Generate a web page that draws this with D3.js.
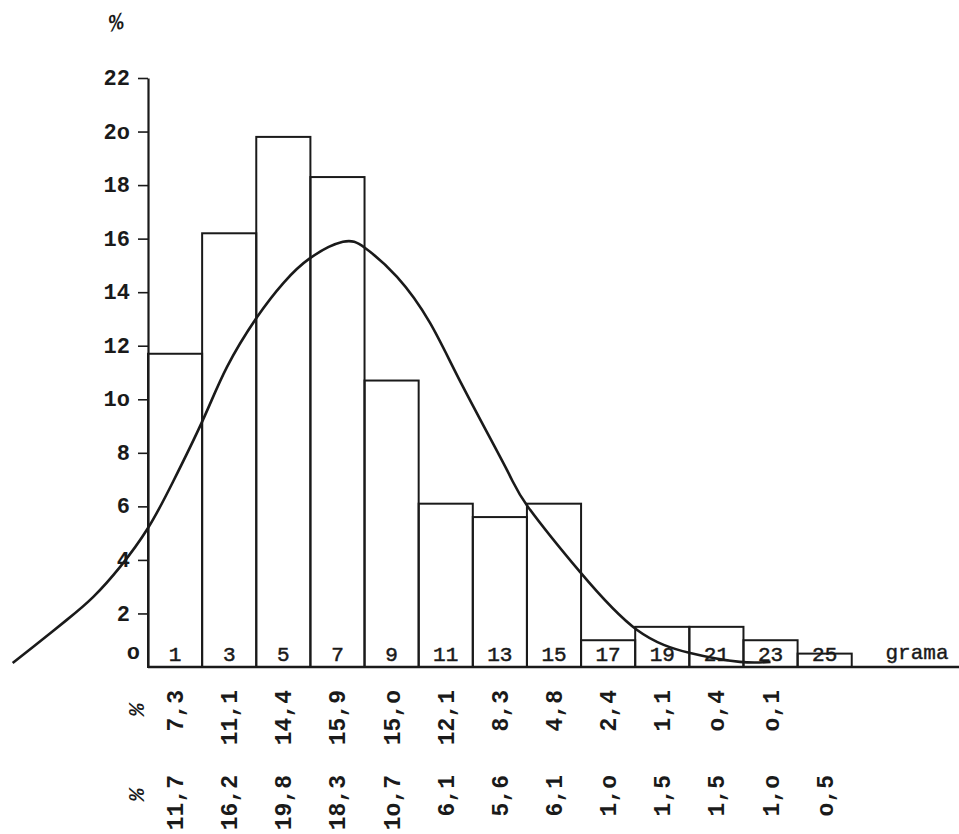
<!DOCTYPE html>
<html>
<head>
<meta charset="utf-8">
<script src="https://cdn.jsdelivr.net/npm/d3@7"></script>
<style>
  html, body { margin: 0; padding: 0; background: #ffffff; }
  svg { display: block; }
  text { font-family: "Liberation Mono", "DejaVu Sans Mono", monospace; fill: #1a1a1a; }
</style>
</head>
<body>
<svg id="chart" width="959" height="834"></svg>
<script>
// ---- data ----
const classMid = [1, 3, 5, 7, 9, 11, 13, 15, 17, 19, 21, 23, 25];           // grama (class centres)
const observedPct = [11.7, 16.2, 19.8, 18.3, 10.7, 6.1, 5.6, 6.1, 1.0, 1.5, 1.5, 1.0, 0.5];
const expectedPct = [7.3, 11.1, 14.4, 15.9, 15.0, 12.1, 8.3, 4.8, 2.4, 1.1, 0.4, 0.1];
const observedLabels = ["11,7", "16,2", "19,8", "18,3", "1o,7", "6,1", "5,6", "6,1", "1,o", "1,5", "1,5", "1,o", "o,5"];
const expectedLabels = ["7,3", "11,1", "14,4", "15,9", "15,o", "12,1", "8,3", "4,8", "2,4", "1,1", "o,4", "o,1"];
const yTicks = [2, 4, 6, 8, 10, 12, 14, 16, 18, 20, 22];
const yTickLabels = ["2", "4", "6", "8", "1o", "12", "14", "16", "18", "2o", "22"];
// hand-drawn fitted curve (grama, %)
const curveGram = [-5.0, -4.25, -3.0, -2.03, -1.03, 0.0, 0.92, 2.03, 2.92, 4.03, 5.0, 6.0, 7.2, 8.02, 9.2, 10.42, 11.64, 13.26, 14.04, 15.96, 18.07, 20.03, 21.87, 23.0];
const curvePct  = [0.15, 0.75, 1.76, 2.61, 3.74, 5.19, 6.91, 9.23, 11.21, 13.07, 14.34, 15.28, 15.88, 15.65, 14.57, 12.85, 10.46, 7.36, 5.98, 3.55, 1.38, 0.52, 0.19, 0.19];

// ---- layout ----
const svg = d3.select("#chart");
const x = d3.scaleLinear().domain([0, 30]).range([148, 960]);
const y = d3.scaleLinear().domain([0, 22]).range([667, 78]);
const ink = "#1a1a1a";

// bars
svg.append("g").selectAll("rect")
  .data(classMid)
  .join("rect")
  .attr("x", d => x(d - 1))
  .attr("width", d => x(d + 1) - x(d - 1))
  .attr("y", (d, i) => y(observedPct[i]))
  .attr("height", (d, i) => y(0) - y(observedPct[i]))
  .attr("fill", "none")
  .attr("stroke", ink)
  .attr("stroke-width", 2);

// bar labels (grama)
svg.append("g").selectAll("text")
  .data(classMid)
  .join("text")
  .attr("x", d => x(d))
  .attr("y", y(0) - 6)
  .attr("text-anchor", "middle")
  .attr("font-size", 21)
  .attr("stroke", ink).attr("stroke-width", 0.5)
  .text(d => d);

svg.append("text")
  .attr("x", 917).attr("y", y(0) - 8)
  .attr("text-anchor", "middle")
  .attr("font-size", 21)
  .attr("stroke", ink).attr("stroke-width", 0.4)
  .text("grama");

// y axis
const yAxis = d3.axisLeft(y).tickValues(yTicks).tickSize(10).tickSizeOuter(0)
  .tickFormat((d, i) => yTickLabels[i]);
const gy = svg.append("g").attr("transform", `translate(${x(0)},0)`).call(yAxis);
gy.select(".domain").attr("stroke", ink).attr("stroke-width", 2.2);
gy.selectAll(".tick line").attr("stroke", ink).attr("stroke-width", 1.6);
gy.selectAll(".tick text")
  .attr("font-family", "Liberation Mono, DejaVu Sans Mono, monospace")
  .attr("font-size", 22).attr("font-weight", "bold").attr("fill", ink)
  .attr("x", -18).attr("dy", "0.3em");

svg.append("text")
  .attr("x", 140).attr("y", y(0) - 8)
  .attr("text-anchor", "end")
  .attr("font-size", 22).attr("font-weight", "bold")
  .text("o");

// x baseline
svg.append("line")
  .attr("x1", x(0)).attr("x2", 959)
  .attr("y1", y(0)).attr("y2", y(0))
  .attr("stroke", ink).attr("stroke-width", 2.4);

// curve
const line = d3.line()
  .x((d, i) => x(curveGram[i]))
  .y(d => y(d))
  .curve(d3.curveNatural);
svg.append("path")
  .datum(curvePct)
  .attr("d", line)
  .attr("fill", "none")
  .attr("stroke", ink)
  .attr("stroke-width", 2.6);

// rotated value rows
function row(labels, topY) {
  svg.append("g").selectAll("text")
    .data(labels)
    .join("text")
    .attr("transform", (d, i) => `translate(${x(classMid[i]) + 8},${topY}) rotate(-90)`)
    .attr("text-anchor", "end")
    .attr("font-size", 23)
    .attr("font-weight", "bold")
    .text(d => d);
}
row(expectedLabels, 690);
row(observedLabels, 775);

// % marks beside rows
[710, 795].forEach(cy => {
  svg.append("text")
    .attr("transform", `translate(${144},${cy}) rotate(-90)`)
    .attr("text-anchor", "middle")
    .attr("font-size", 22)
    .attr("font-weight", "bold")
    .attr("font-style", "italic")
    .text("%");
});

// top % label
svg.append("text")
  .attr("transform", "translate(118,30) rotate(-15)")
  .attr("text-anchor", "middle")
  .attr("font-size", 24)
  .attr("font-weight", "bold")
  .attr("font-style", "italic")
  .text("%");
</script>
</body>
</html>
